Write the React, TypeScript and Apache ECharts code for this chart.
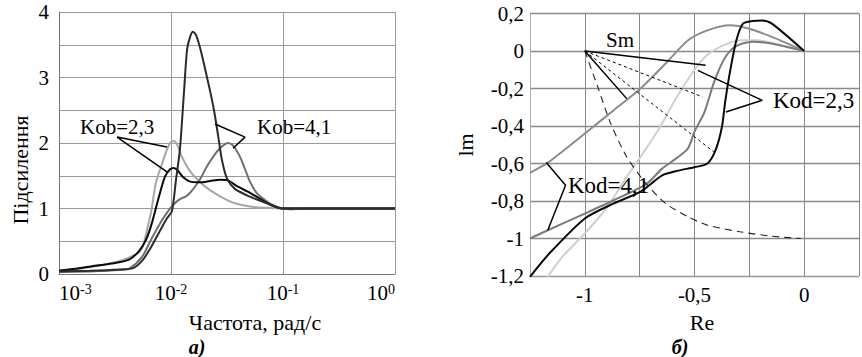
import React, { useEffect, useRef } from "react";
import * as echarts from "echarts";

const FONT = "Liberation Serif";

// ---------- Panel a): gain vs frequency ----------
const kob23BlackFreq = [0.001, 0.00139, 0.00197, 0.00297, 0.00422, 0.00518, 0.00598, 0.00676, 0.0078, 0.0088, 0.0098, 0.0106, 0.0115, 0.0128, 0.0148, 0.0182, 0.0223, 0.0274, 0.0323, 0.0388, 0.0507, 0.0649, 0.0815, 0.1, 0.2, 1];
const kob23BlackGain = [0.05, 0.08, 0.12, 0.16, 0.22, 0.35, 0.52, 0.78, 1.18, 1.48, 1.6, 1.62, 1.58, 1.48, 1.41, 1.4, 1.42, 1.44, 1.43, 1.34, 1.24, 1.13, 1.04, 1.0, 1.0, 1.0];

const kob23GrayFreq = [0.001, 0.00154, 0.00232, 0.00351, 0.00458, 0.0052, 0.0056, 0.0062, 0.0067, 0.0073, 0.0083, 0.0092, 0.0099, 0.0106, 0.0113, 0.0125, 0.0148, 0.0182, 0.0223, 0.0285, 0.0372, 0.0507, 0.0719, 0.1, 0.12, 0.15, 1];
const kob23GrayGain = [0.05, 0.08, 0.13, 0.2, 0.28, 0.33, 0.42, 0.72, 0.98, 1.38, 1.68, 1.9, 2.01, 2.03, 1.98, 1.79, 1.57, 1.4, 1.28, 1.17, 1.08, 1.03, 1.01, 1.0, 0.985, 1.0, 1.0];

const kob41DarkFreq = [0.001, 0.00189, 0.00351, 0.00458, 0.00551, 0.00649, 0.0078, 0.0092, 0.0102, 0.0111, 0.012, 0.0131, 0.0139, 0.0148, 0.0157, 0.0167, 0.0182, 0.0201, 0.0223, 0.0242, 0.0263, 0.0285, 0.0316, 0.0372, 0.0507, 0.0719, 0.1, 1];
const kob41DarkGain = [0.04, 0.05, 0.07, 0.09, 0.2, 0.38, 0.63, 0.85, 0.96, 1.45, 1.89, 2.81, 3.42, 3.62, 3.7, 3.65, 3.45, 3.14, 2.8, 2.5, 2.12, 1.74, 1.46, 1.3, 1.18, 1.08, 1.0, 1.0];

const kob41GrayFreq = [0.001, 0.00189, 0.00351, 0.00422, 0.00551, 0.00676, 0.0083, 0.0096, 0.0104, 0.0115, 0.0125, 0.0135, 0.0148, 0.0165, 0.0182, 0.0209, 0.024, 0.0274, 0.0323, 0.0358, 0.0413, 0.0458, 0.0507, 0.0586, 0.069, 0.0815, 0.1, 1];
const kob41GrayGain = [0.03, 0.04, 0.06, 0.08, 0.26, 0.55, 0.82, 0.98, 1.05, 1.12, 1.16, 1.18, 1.24, 1.34, 1.45, 1.64, 1.8, 1.92, 2.0, 1.96, 1.79, 1.6, 1.41, 1.23, 1.13, 1.05, 1.0, 1.0];

// leader lines (freq, gain)
const kob23LeaderFreq = [0.0092, 0.0033, 0.0092];
const kob23LeaderGain = [1.94, 2.09, 1.56];
const kob41LeaderFreq = [0.0247, 0.0458, 0.0358];
const kob41LeaderGain = [2.29, 2.09, 1.92];

// ---------- Panel б): Nyquist (Re, Im) ----------
const curveARe = [-1.25, -1.162, -1, -0.868, -0.746, -0.632, -0.529, -0.441, -0.338, -0.25, -0.147, 0];
const curveAIm = [-0.65, -0.59, -0.44, -0.316, -0.2, -0.067, 0.057, 0.11, 0.137, 0.119, 0.075, 0];

const curveBRe = [-1.25, -1.169, -1, -0.868, -0.72, -0.65, -0.58, -0.53, -0.5, -0.456, -0.412, -0.368, -0.33, -0.294, -0.235, -0.15, 0];
const curveBIm = [-1.0, -0.956, -0.867, -0.796, -0.71, -0.63, -0.57, -0.52, -0.43, -0.33, -0.17, -0.05, 0.01, 0.035, 0.05, 0.04, 0];

const curveCRe = [-1.25, -1.162, -1, -0.868, -0.746, -0.647, -0.574, -0.5, -0.441, -0.404, -0.375, -0.36, -0.338, -0.309, -0.279, -0.235, -0.191, -0.147, 0];
const curveCIm = [-1.204, -1.08, -0.893, -0.813, -0.75, -0.663, -0.638, -0.62, -0.6, -0.529, -0.405, -0.27, -0.11, 0.057, 0.146, 0.16, 0.163, 0.146, 0];

const curveDRe = [-1.169, -1.103, -1, -0.897, -0.809, -0.746, -0.662, -0.588, -0.5, -0.441, -0.368, -0.294, -0.221, -0.132, 0];
const curveDIm = [-1.204, -1.098, -0.973, -0.831, -0.671, -0.565, -0.415, -0.26, -0.1, -0.02, 0.03, 0.057, 0.058, 0.039, 0];

const dashedCurveRe = [-1, -0.941, -0.882, -0.809, -0.721, -0.632, -0.529, -0.441, -0.294, -0.147, -0.015];
const dashedCurveIm = [0, -0.192, -0.387, -0.565, -0.707, -0.813, -0.885, -0.929, -0.964, -0.988, -1.0];

const smSolidEnds = [[-0.449, -0.076], [-0.809, -0.254]];
const smDashedEnds = [[-0.463, -0.245], [-0.412, -0.538]];
const smOrigin = [-1, 0];

const kod23LeaderRe = [-0.485, -0.191, -0.357];
const kod23LeaderIm = [-0.103, -0.263, -0.325];
const kod41LeaderRe = [-1.176, -1.088, -1.169];
const kod41LeaderIm = [-0.595, -0.716, -0.956];

const zip = (a: number[], b: number[]) => a.map((v, i) => [v, b[i]]);

const superscript = (v: number) => {
  const e = Math.round(Math.log10(v));
  return `{b|10}{s|${e}}`;
};

export default function App() {
  const ref = useRef<HTMLDivElement>(null);
  useEffect(() => {
    if (!ref.current) return;
    const chart = echarts.init(ref.current, undefined, { renderer: "svg" });
    const lineSeries = (data: number[][], color: string, width: number, axis: number, type: any = "solid", z = 2) => ({
      type: "line",
      xAxisIndex: axis,
      yAxisIndex: axis,
      data,
      showSymbol: false,
      symbol: "none",
      smooth: 0.25,
      lineStyle: { color, width, type },
      silent: true,
      z,
      clip: true,
    });
    const straight = (data: number[][], color: string, width: number, axis: number, type: any = "solid") => ({
      ...lineSeries(data, color, width, axis, type, 5),
      smooth: false,
    });
    const labelStyle = { color: "#000", fontFamily: FONT, fontSize: 21 };
    const txt = (text: string, x: number, y: number, size: number, extra: any = {}, rotation = 0, align = "left") => ({
      type: "text",
      x,
      y,
      rotation,
      z: 10,
      style: { text, fontFamily: FONT, fontSize: size, fill: "#000", align, verticalAlign: "middle", ...extra },
    });

    chart.setOption({
      animation: false,
      backgroundColor: "#fff",
      textStyle: { fontFamily: FONT },
      grid: [
        { left: 59, top: 12, width: 336, height: 262 },
        { left: 530, top: 13.5, width: 339, height: 262.5 },
      ],
      xAxis: [
        {
          type: "log",
          logBase: 10,
          gridIndex: 0,
          min: 0.001,
          max: 1,
          axisLine: { lineStyle: { color: "#777", width: 1 } },
          axisTick: { show: false },
          splitLine: { show: true, lineStyle: { color: "#999", width: 1 } },
          axisLabel: {
            margin: 8,
            formatter: superscript,
            alignMinLabel: "left",
            alignMaxLabel: "right",
            rich: {
              b: { fontFamily: FONT, fontSize: 21, color: "#000" },
              s: { fontFamily: FONT, fontSize: 14, color: "#000", verticalAlign: "top" },
            },
          },
        },
        {
          type: "value",
          gridIndex: 1,
          min: -1.25,
          max: 0.25,
          interval: 0.25,
          axisLine: { onZero: false, lineStyle: { color: "#999", width: 1 } },
          axisTick: { show: false },
          splitLine: { show: true, lineStyle: { color: "#888", width: 1 } },
          axisLabel: {
            ...labelStyle,
            margin: 8,
            showMinLabel: false,
            formatter: (v: number) => {
              const r = Math.round(v * 100) / 100;
              if (Math.abs(r * 2 - Math.round(r * 2)) > 1e-6) return "";
              return String(r).replace(".", ",");
            },
          },
        },
      ],
      yAxis: [
        {
          type: "value",
          gridIndex: 0,
          min: 0,
          max: 4,
          interval: 0.5,
          axisLine: { show: true, lineStyle: { color: "#777", width: 1 } },
          axisTick: { show: false },
          splitLine: { show: true, lineStyle: { color: "#999", width: 1 } },
          axisLabel: {
            ...labelStyle,
            margin: 10,
            formatter: (v: number) => (Number.isInteger(v) ? String(v) : ""),
          },
        },
        {
          type: "value",
          gridIndex: 1,
          min: -1.2,
          max: 0.2,
          interval: 0.2,
          axisLine: { show: true, onZero: false, lineStyle: { color: "#aaa", width: 1 } },
          axisTick: { show: false },
          splitLine: { show: true, lineStyle: { color: "#8a8a8a", width: 1.4 } },
          axisLabel: {
            ...labelStyle,
            margin: 6,
            formatter: (v: number) => {
              const r = Math.round(v * 10) / 10;
              return String(r === 0 ? 0 : r).replace(".", ",");
            },
          },
        },
      ],
      series: [
        lineSeries(zip(kob23GrayFreq, kob23GrayGain), "#a6a6a6", 2, 0),
        lineSeries(zip(kob41GrayFreq, kob41GrayGain), "#707070", 2, 0),
        lineSeries(zip(kob23BlackFreq, kob23BlackGain), "#0a0a0a", 2, 0),
        lineSeries(zip(kob41DarkFreq, kob41DarkGain), "#2b2b2b", 2, 0),
        straight(zip(kob23LeaderFreq, kob23LeaderGain), "#000", 1.5, 0),
        straight(zip(kob41LeaderFreq, kob41LeaderGain), "#000", 1.5, 0),

        lineSeries(zip(curveARe, curveAIm), "#8c8c8c", 2, 1),
        lineSeries(zip(curveDRe, curveDIm), "#cfcfcf", 2, 1),
        lineSeries(zip(curveBRe, curveBIm), "#7a7a7a", 2, 1),
        lineSeries(zip(curveCRe, curveCIm), "#0a0a0a", 2, 1),
        lineSeries(zip(dashedCurveRe, dashedCurveIm), "#222", 1.1, 1, [7, 5]),
        ...smSolidEnds.map((e) => straight([smOrigin, e], "#000", 1.5, 1)),
        ...smDashedEnds.map((e) => straight([smOrigin, e], "#000", 1, 1, [3, 3])),
        straight(zip(kod23LeaderRe, kod23LeaderIm), "#000", 1.5, 1),
        straight(zip(kod41LeaderRe, kod41LeaderIm), "#000", 1.5, 1),
      ],
      graphic: [
        txt("Kob=2,3", 80, 127, 21),
        txt("Kob=4,1", 257, 127, 21),
        txt("Kod=2,3", 773, 100, 23),
        txt("Kod=4,1", 568, 185, 23),
        txt("Sm", 606, 40, 21),
        txt("Підсилення", 20, 170, 22, {}, Math.PI / 2, "center"),
        txt("Частота, рад/с", 255, 322, 22, {}, 0, "center"),
        txt("а)", 197, 347, 20, { fontWeight: "bold", fontStyle: "italic" }, 0, "center"),
        txt("lm", 465, 145, 22, {}, Math.PI / 2, "center"),
        txt("Re", 702, 322, 22, {}, 0, "center"),
        txt("б)", 680, 347, 20, { fontWeight: "bold", fontStyle: "italic" }, 0, "center"),
      ],
    });
    return () => chart.dispose();
  }, []);
  return (
    <div
      ref={ref}
      style={{ position: "fixed", left: 0, top: 0, width: 862, height: 357, background: "#fff" }}
    />
  );
}
